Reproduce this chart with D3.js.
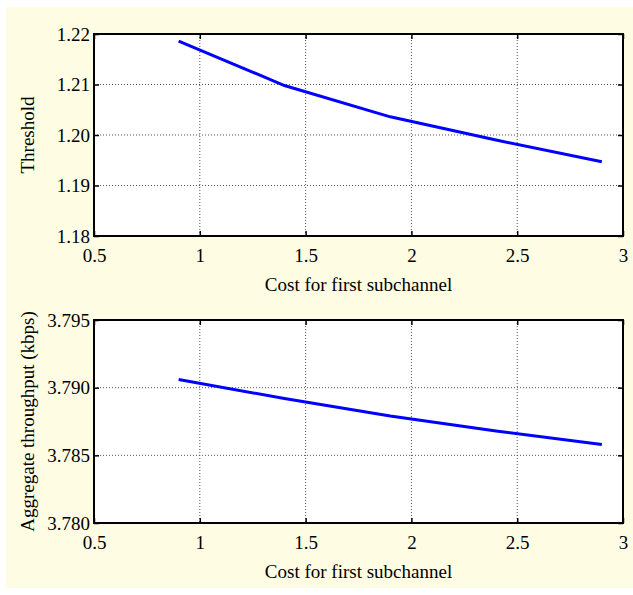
<!DOCTYPE html>
<html>
<head>
<meta charset="utf-8">
<script src="https://cdn.jsdelivr.net/npm/d3@7"></script>
<style>
  body { margin: 0; background: #fff; }
  svg text { font-family: "Liberation Serif", "Times New Roman", serif; fill: #000; }
</style>
</head>
<body>
<div id="chart"></div>
<script>
/* Threshold and throughput vs cost, two stacked panels */

const cost = [0.9, 1.4, 1.9, 2.4, 2.9];
const threshold = [1.2186, 1.2098, 1.2036, 1.1990, 1.1947];
const throughput = [3.7906, 3.7892, 3.7879, 3.7868, 3.7858];

const xTicks = [0.5, 1, 1.5, 2, 2.5, 3];
const yTicks1 = [1.18, 1.19, 1.20, 1.21, 1.22];
const yTicks2 = [3.780, 3.785, 3.790, 3.795];

const width = 633, height = 595,
    fontSize = 19;

let svg = d3.select("#chart")
    .append("svg")
    .attr("width", width)
    .attr("height", height);

svg.append("rect")
    .attr("x", 6).attr("y", 7)
    .attr("width", width - 6).attr("height", 581)
    .attr("fill", "#fefde4");

function panel(top, bottom, values, yDomain, yTicks, yFmt, yLabel) {
    const left = 94, right = 623;

    let x = d3.scaleLinear().domain([0.5, 3]).range([left, right]);
    let y = d3.scaleLinear().domain(yDomain).range([bottom, top]);

    let g = svg.append("g");

    g.append("rect")
        .attr("x", left).attr("y", top)
        .attr("width", right - left).attr("height", bottom - top)
        .attr("fill", "#fff");

    // dotted grid
    g.append("g").selectAll("line")
        .data(xTicks.slice(1, -1))
        .join("line")
        .attr("x1", d => x(d)).attr("x2", d => x(d))
        .attr("y1", top).attr("y2", bottom)
        .attr("stroke", "#555").attr("stroke-width", 1)
        .attr("stroke-dasharray", "1,2");

    g.append("g").selectAll("line")
        .data(yTicks.slice(1, -1))
        .join("line")
        .attr("x1", left).attr("x2", right)
        .attr("y1", d => y(d)).attr("y2", d => y(d))
        .attr("stroke", "#555").attr("stroke-width", 1)
        .attr("stroke-dasharray", "1,2");

    // axes, ticks point inward
    g.append("g")
        .attr("transform", `translate(0,${bottom})`)
        .call(d3.axisBottom(x).tickValues(xTicks).tickSize(-5).tickPadding(13)
            .tickFormat(d3.format("")).tickSizeOuter(0))
        .call(a => a.select(".domain").remove())
        .call(a => a.selectAll("text").attr("font-size", fontSize));

    g.append("g")
        .attr("transform", `translate(${left},0)`)
        .call(d3.axisLeft(y).tickValues(yTicks).tickSize(-5).tickPadding(4)
            .tickFormat(d3.format(yFmt)).tickSizeOuter(0))
        .call(a => a.select(".domain").remove())
        .call(a => a.selectAll("text").attr("font-size", fontSize));

    g.append("g")
        .attr("transform", `translate(0,${top})`)
        .call(d3.axisTop(x).tickValues(xTicks).tickSize(-5).tickFormat("").tickSizeOuter(0))
        .call(a => a.select(".domain").remove());

    g.append("g")
        .attr("transform", `translate(${right},0)`)
        .call(d3.axisRight(y).tickValues(yTicks).tickSize(-5).tickFormat("").tickSizeOuter(0))
        .call(a => a.select(".domain").remove());

    g.selectAll(".tick line").attr("stroke", "#000").attr("stroke-width", 1.5);

    g.append("rect")
        .attr("x", left).attr("y", top)
        .attr("width", right - left).attr("height", bottom - top)
        .attr("fill", "none").attr("stroke", "#000").attr("stroke-width", 2);

    let line = d3.line()
        .x((d, i) => x(cost[i]))
        .y(d => y(d));

    g.append("path")
        .datum(values)
        .attr("d", line)
        .attr("fill", "none")
        .attr("stroke", "#0000ff")
        .attr("stroke-width", 3);

    g.append("text")
        .attr("x", (left + right) / 2)
        .attr("y", bottom + 55)
        .attr("text-anchor", "middle")
        .attr("font-size", fontSize)
        .text("Cost for first subchannel");

    g.append("text")
        .attr("transform", `translate(34,${(top + bottom) / 2}) rotate(-90)`)
        .attr("text-anchor", "middle")
        .attr("font-size", fontSize)
        .text(yLabel);
}

panel(34, 236, threshold, [1.18, 1.22], yTicks1, ".2f", "Threshold");
panel(320, 523, throughput, [3.780, 3.795], yTicks2, ".3f", "Aggregate throughput (kbps)");
</script>
</body>
</html>
